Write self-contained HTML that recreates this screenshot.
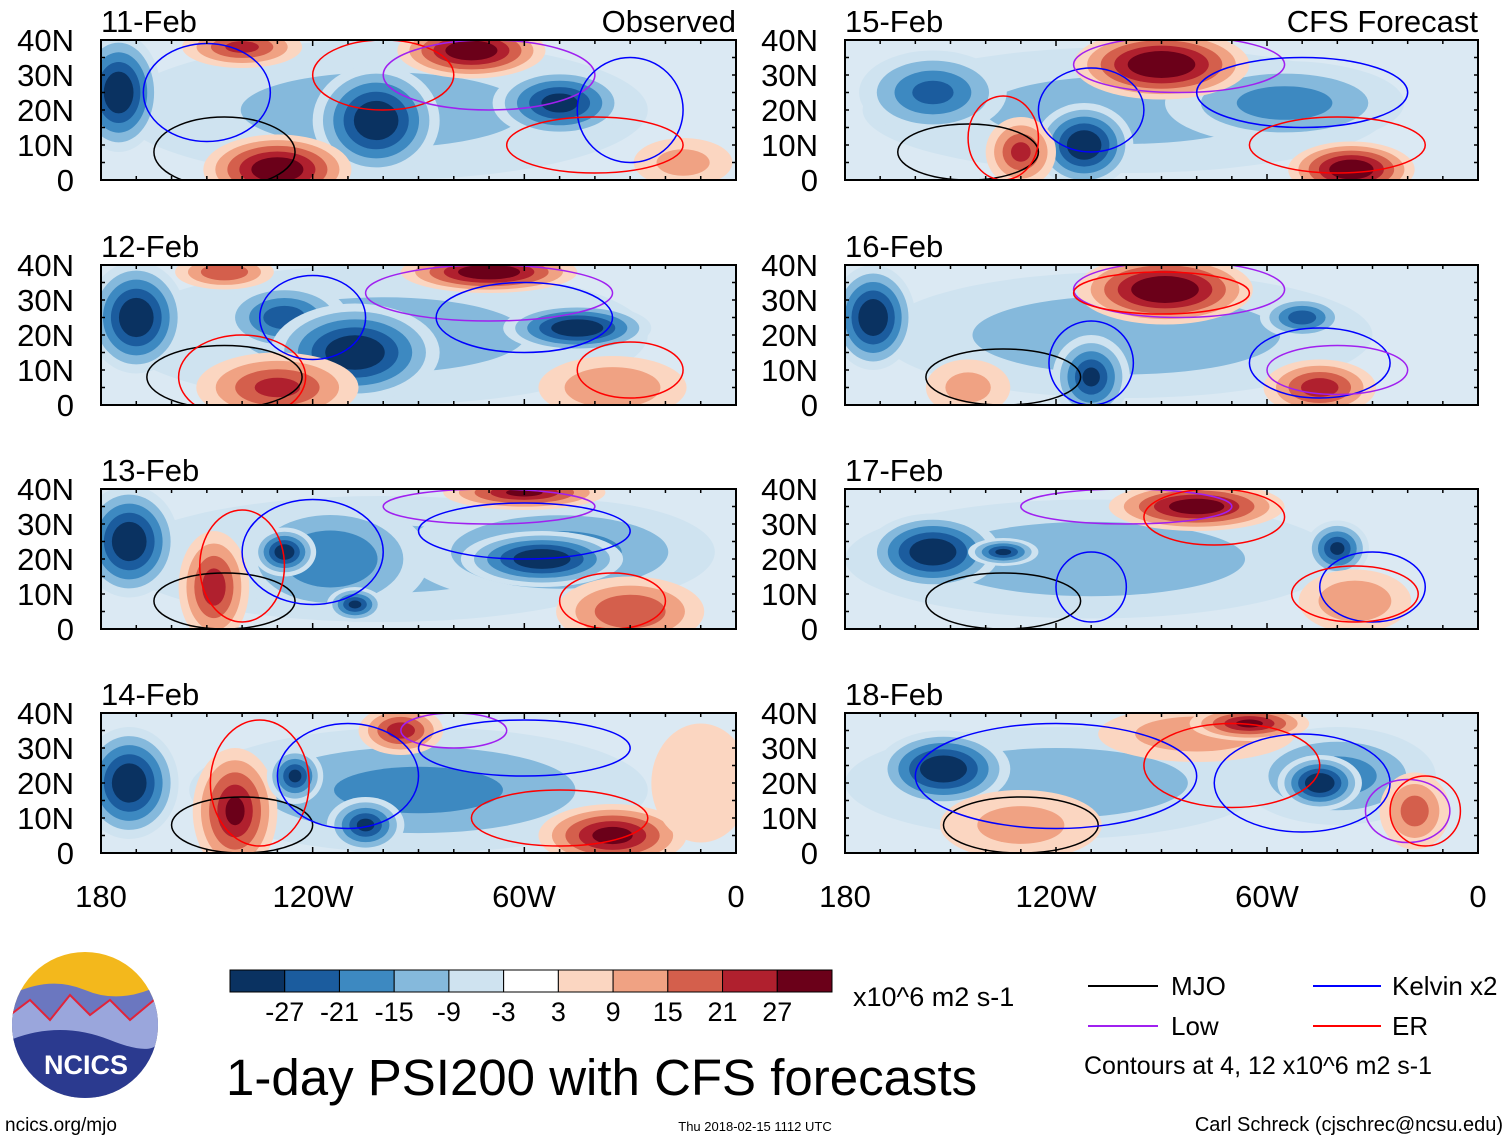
<!DOCTYPE html>
<html><head><meta charset="utf-8"><style>
html,body{margin:0;padding:0;background:#fff;}
svg{display:block;font-family:"Liberation Sans",Arial,sans-serif;}
</style></head><body>
<svg id="fig" width="1510" height="1141" viewBox="0 0 1510 1141" xmlns="http://www.w3.org/2000/svg">
<defs></defs>
<g id="panels"></g>
<g font-size="31" text-anchor="middle">
<text x="101" y="907">180</text><text x="313" y="907">120W</text><text x="524" y="907">60W</text><text x="736" y="907">0</text></g>
<g font-size="31" text-anchor="middle">
<text x="845" y="907">180</text><text x="1056" y="907">120W</text><text x="1267" y="907">60W</text><text x="1478" y="907">0</text></g>
<g>
<clipPath id="lc"><circle cx="85" cy="1025" r="73"/></clipPath>
<g clip-path="url(#lc)">
<rect x="10" y="950" width="150" height="150" fill="#f3b81c"/>
<path d="M10 995 Q50 975 85 990 T160 985 L160 1100 L10 1100Z" fill="#6b77c0"/>
<path d="M10 1015 L30 1000 L50 1020 L70 995 L90 1015 L110 1000 L130 1020 L160 995 L160 1100 L10 1100Z" fill="#9aa6dc" stroke="#e0243a" stroke-width="2"/>
<path d="M10 1040 Q60 1020 110 1040 T160 1035 L160 1100 L10 1100Z" fill="#2b3a8f"/>
</g>
<text x="86" y="1074" font-size="27" font-weight="bold" fill="#fff" text-anchor="middle">NCICS</text>
</g>
<text x="5" y="1131" font-size="19">ncics.org/mjo</text>
<g id="cbar"></g>
<text x="853" y="1006" font-size="27">x10^6 m2 s-1</text>
<text x="226" y="1095" font-size="51">1-day PSI200 with CFS forecasts</text>
<text x="755" y="1131" font-size="13" text-anchor="middle">Thu 2018-02-15 1112 UTC</text>
<text x="1503" y="1131" font-size="20" text-anchor="end">Carl Schreck (cjschrec@ncsu.edu)</text>
<g font-size="26">
<line x1="1088" y1="986" x2="1158" y2="986" stroke="#000" stroke-width="2"/><text x="1171" y="995">MJO</text>
<line x1="1313" y1="986" x2="1381" y2="986" stroke="#0000ff" stroke-width="2"/><text x="1392" y="995">Kelvin x2</text>
<line x1="1088" y1="1026" x2="1158" y2="1026" stroke="#a020f0" stroke-width="2"/><text x="1171" y="1035">Low</text>
<line x1="1313" y1="1026" x2="1381" y2="1026" stroke="#ff0000" stroke-width="2"/><text x="1392" y="1035">ER</text>
<text x="1084" y="1074" font-size="25">Contours at 4, 12 x10^6 m2 s-1</text>
</g>
</svg>
<script>
const levels = [-27,-21,-15,-9,-3,3,9,15,21,27];
const levelLabels = ["-27","-21","-15","-9","-3","3","9","15","21","27"];
const colors = ["#0a3261","#1b5c9e","#3d89c1","#85b9dc","#cfe3f0","#ffffff","#fbd6c1","#f0a283","#d45f4c","#b0202e","#6b0019"];
const panelTitles = ["11-Feb","12-Feb","13-Feb","14-Feb","15-Feb","16-Feb","17-Feb","18-Feb"];
const latTicks = ["40N","30N","20N","10N","0"];
// blobs: [lon, lat, rxDeg, ryDeg, value]
const blobs11 = [[-100,20,75,20,-10],[-175,25,12,17,-34],[-102,17,18,16,-34],[-50,22,19,10,-30],[-140,38,17,6,22],[-75,37,21,8,34],[-130,3,21,10,34],[-15,5,14,7,10]];
const blobs12 = [[-100,20,75,20,-10],[-170,25,14,16,-34],[-128,25,18,10,-24],[-108,15,24,14,-34],[-45,22,21,7,-34],[-70,38,25,6,34],[-145,38,14,5,20],[-130,5,23,10,22],[-35,5,21,9,14]];
const blobs13 = [[-100,20,75,18,-10],[-172,25,14,16,-34],[-115,20,28,17,-20],[-128,22,9,7,-32],[-50,22,44,15,-17],[-55,20,23,8,-34],[-148,12,10,16,24],[-60,39,23,5,28],[-30,5,21,10,20],[-108,7,8,5,-28]];
const blobs14 = [[-90,18,65,18,-16],[-172,20,14,16,-34],[-142,12,12,18,28],[-125,22,8,8,-28],[-105,8,11,8,-28],[-95,35,12,7,24],[-35,5,21,9,30],[-10,20,14,17,7]];
const blobs15 = [[-100,20,75,18,-10],[-155,25,21,12,-22],[-112,10,14,12,-34],[-55,22,34,12,-17],[-90,33,25,10,36],[-130,8,10,10,22],[-36,3,18,8,34]];
const blobs16 = [[-100,20,70,18,-13],[-172,25,12,15,-34],[-110,8,11,12,-28],[-50,25,12,6,-24],[-89,33,25,10,36],[-45,5,16,8,24],[-145,5,12,8,10]];
const blobs17 = [[-110,20,70,17,-13],[-155,22,19,11,-34],[-135,22,10,4,-28],[-40,23,9,8,-28],[-80,35,25,7,32],[-35,8,16,9,14]];
const blobs18 = [[-120,20,60,16,-13],[-152,24,19,11,-34],[-40,22,28,14,-17],[-45,20,12,8,-34],[-80,34,28,8,13],[-65,37,17,5,28],[-130,8,23,10,10],[-18,12,10,11,17]];
const allBlobs = [blobs11,blobs12,blobs13,blobs14,blobs15,blobs16,blobs17,blobs18];
// contour lines: [type, lon, lat, rxDeg, ryDeg]
const lines11 = [["mjo",-145,8,20,10],["kelvin",-150,25,18,14],["er",-100,30,20,10],["low",-70,30,30,10],["kelvin",-30,20,15,15],["er",-40,10,25,8]];
const lines12 = [["mjo",-145,8,22,9],["er",-140,8,18,12],["kelvin",-120,25,15,12],["low",-70,32,35,8],["kelvin",-60,25,25,10],["er",-30,10,15,8]];
const lines13 = [["mjo",-145,8,20,8],["er",-140,18,12,16],["kelvin",-120,22,20,15],["low",-70,35,30,5],["kelvin",-60,28,30,8],["er",-35,8,15,8]];
const lines14 = [["mjo",-140,8,20,8],["er",-135,20,14,18],["kelvin",-110,22,20,15],["low",-80,35,15,5],["kelvin",-60,30,30,8],["er",-50,10,25,8]];
const lines15 = [["mjo",-145,8,20,8],["er",-135,12,10,12],["kelvin",-110,20,15,12],["low",-85,33,30,8],["kelvin",-50,25,30,10],["er",-40,10,25,8]];
const lines16 = [["mjo",-135,8,22,8],["kelvin",-110,12,12,12],["low",-85,33,30,8],["er",-90,32,25,6],["kelvin",-45,12,20,10],["low",-40,10,20,7]];
const lines17 = [["mjo",-135,8,22,8],["kelvin",-110,12,10,10],["low",-100,35,30,5],["er",-75,32,20,8],["kelvin",-30,12,15,10],["er",-35,10,18,8]];
const lines18 = [["mjo",-130,8,22,8],["kelvin",-120,22,40,15],["er",-70,25,25,12],["kelvin",-50,20,25,14],["low",-20,12,12,9],["er",-15,12,10,10]];
const allLines = [lines11,lines12,lines13,lines14,lines15,lines16,lines17,lines18];

const NS = "http://www.w3.org/2000/svg";
const lineColors = {mjo:"#000",kelvin:"#0000ff",low:"#a020f0",er:"#ff0000"};
function mk(tag, attrs, parent){const e=document.createElementNS(NS,tag);for(const k in attrs)e.setAttribute(k,attrs[k]);parent.appendChild(e);return e;}
function colorFor(v){let i=0;while(i<levels.length&&v>=levels[i])i++;return colors[i];}

const panelsG = document.getElementById('panels');
const defs = document.querySelector('defs');
const cols = [[101,736],[845,1478]];
const tops = [40,265,489,713];
const H = 140;
for(let p=0;p<8;p++){
  const c = cols[Math.floor(p/4)], top = tops[p%4];
  const x0=c[0], x1=c[1];
  const xs = lon => x0 + (lon+180)/180*(x1-x0);
  const ys = lat => top + H - lat/40*H;
  const g = mk('g',{},panelsG);
  
  
  const cp = mk('clipPath',{id:'cp'+p},defs);
  mk('rect',{x:x0,y:top,width:x1-x0,height:H},cp);
  const inner = mk('g',{'clip-path':'url(#cp'+p+')'},g);
  mk('rect',{x:x0,y:top,width:x1-x0,height:H,fill:"#dbe9f3"},inner);
  allBlobs[p].forEach(b=>{
    const [lon,lat,rx,ry,v]=b; const av=Math.abs(v), s=Math.sign(v);
    const th=[3,9,15,21,27].filter(t=>t<av);
    th.forEach(t=>{
      const sc=(av-t+6)/(av+3);
      const e=mk('ellipse',{cx:xs(lon),cy:ys(lat),rx:rx*sc*(x1-x0)/180,ry:ry*sc*H/40,fill:colorFor(s*(t+0.1))},inner);
      
      
    });
  });
  allLines[p].forEach(l=>{
    const [type,lon,lat,rx,ry]=l;
    const e=mk('ellipse',{cx:xs(lon),cy:ys(lat),rx:rx*(x1-x0)/180,ry:ry*H/40,fill:"none",stroke:lineColors[type],"stroke-width":1.5},inner);
    
    
  });
  mk('rect',{x:x0,y:top,width:x1-x0,height:H,fill:"none",stroke:"#000","stroke-width":2},g);
  for(let lon=-180;lon<=0;lon+=10){
    const len = lon%60===0?6:4;
    mk('line',{x1:xs(lon),y1:top,x2:xs(lon),y2:top+len,stroke:"#000","stroke-width":1.5},g);
    mk('line',{x1:xs(lon),y1:top+H,x2:xs(lon),y2:top+H-len,stroke:"#000","stroke-width":1.5},g);
  }
  for(let lat=0;lat<=40;lat+=5){
    mk('line',{x1:x0,y1:ys(lat),x2:x0+4,y2:ys(lat),stroke:"#000","stroke-width":1.5},g);
    mk('line',{x1:x1,y1:ys(lat),x2:x1-4,y2:ys(lat),stroke:"#000","stroke-width":1.5},g);
  }
  const t=mk('text',{x:x0,y:top-8,'font-size':31},g); t.textContent=panelTitles[p];
  
  
  if(p%4===0){
    const r=mk('text',{x:x1,y:top-8,'font-size':31,'text-anchor':'end'},g);
    r.textContent = p===0?"Observed":"CFS Forecast";
    
    
  }
  latTicks.forEach((lb,i)=>{
    const tx=mk('text',{x:x0-27,y:top+i*35+11,'font-size':31,'text-anchor':'end'},g);
    tx.textContent=lb;
    
    
  });
}
const cb=document.getElementById('cbar');
const cbx=230, cbw=602/11;
colors.forEach((col,i)=>{
  const r=mk('rect',{x:cbx+i*cbw,y:970,width:cbw,height:22,fill:col,stroke:"#000","stroke-width":1},cb);
  
  
});
levelLabels.forEach((lb,i)=>{
  const t=mk('text',{x:cbx+(i+1)*cbw,y:1021,'font-size':27,'text-anchor':'middle'},cb);
  t.textContent=lb;
  
  
});
</script>
</body></html>
